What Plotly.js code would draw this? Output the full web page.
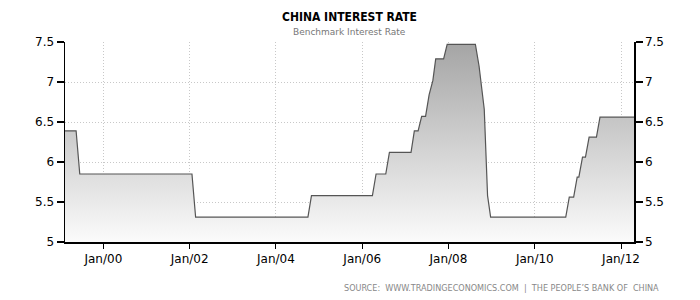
<!DOCTYPE html>
<html>
<head>
<meta charset="utf-8">
<script src="https://cdn.plot.ly/plotly-3.0.1.min.js"></script>
<style>html,body{margin:0;padding:0;background:#fff;}#chart{width:700px;height:300px;}</style>
</head>
<body>
<div id="chart"></div>
<script>
const dates = ['1999-02-01','1999-05-15','1999-06-15','2002-01-20','2002-02-20','2004-09-28','2004-10-28','2006-03-28','2006-04-28','2006-07-19','2006-08-19','2007-02-18','2007-03-18','2007-04-19','2007-05-19','2007-06-21','2007-07-21','2007-08-22','2007-09-15','2007-11-21','2007-12-21','2008-08-16','2008-09-16','2008-10-09','2008-10-30','2008-11-27','2008-12-23','2010-09-20','2010-10-20','2010-11-26','2010-12-26','2011-01-09','2011-02-09','2011-03-06','2011-04-06','2011-06-07','2011-07-07','2012-05-01'];
const rates = [6.39,6.39,5.85,5.85,5.31,5.31,5.58,5.58,5.85,5.85,6.12,6.12,6.39,6.39,6.57,6.57,6.84,7.02,7.29,7.29,7.47,7.47,7.20,6.93,6.66,5.58,5.31,5.31,5.56,5.56,5.81,5.81,6.06,6.06,6.31,6.31,6.56,6.56];
const yTicks = [5,5.5,6,6.5,7,7.5];
const yTickText = ['5','5.5','6','6.5','7','7.5'];
const xTicks = ['2000-01-01','2002-01-01','2004-01-01','2006-01-01','2008-01-01','2010-01-01','2012-01-01'];
const xTickText = ['Jan/00','Jan/02','Jan/04','Jan/06','Jan/08','Jan/10','Jan/12'];
const titleText = 'CHINA INTEREST RATE';
const subtitleText = 'Benchmark Interest Rate';
const sourceText = 'SOURCE:  WWW.TRADINGECONOMICS.COM  |  THE PEOPLE\u2019S BANK OF  CHINA';

const font = 'DejaVu Sans, Verdana, sans-serif';
const traces = [
  {
    x: dates, y: rates, type: 'scatter', mode: 'lines',
    line: {color: '#555555', width: 1.2, shape: 'linear'},
    fill: 'tozeroy',
    fillgradient: {type: 'vertical', start: 5, stop: 7.5,
      colorscale: [[0, '#fbfbfb'], [1, '#a4a4a4']]},
    hoverinfo: 'skip', showlegend: false
  },
  {
    x: dates, y: rates, type: 'scatter', mode: 'lines', yaxis: 'y2',
    line: {color: 'rgba(0,0,0,0)', width: 0}, hoverinfo: 'skip', showlegend: false
  }
];
const yax = {
  range: [5, 7.5], tickvals: yTicks, ticktext: yTickText,
  showline: true, linecolor: '#000', linewidth: 1.5,
  ticks: 'outside', ticklen: 7, tickcolor: '#000', tickwidth: 1.5,
  showgrid: true, gridcolor: '#c8c8c8', griddash: '1px,2px', gridwidth: 1,
  zeroline: false, fixedrange: true,
  tickfont: {family: font, size: 12, color: '#000'}
};
const layout = {
  width: 700, height: 300,
  margin: {l: 65, r: 66, t: 42, b: 58},
  paper_bgcolor: '#fff', plot_bgcolor: '#fff',
  xaxis: {
    type: 'date', range: ['1999-02-10', '2012-04-20'],
    tickvals: xTicks, ticktext: xTickText,
    showline: true, linecolor: '#000', linewidth: 1.5,
    ticks: 'outside', ticklen: 5, tickcolor: '#000',
    showgrid: true, gridcolor: '#c8c8c8', griddash: '1px,2px', gridwidth: 1,
    zeroline: false, fixedrange: true,
    tickfont: {family: font, size: 12, color: '#000'}
  },
  yaxis: Object.assign({}, yax, {side: 'left'}),
  yaxis2: Object.assign({}, yax, {side: 'right', overlaying: 'y', showgrid: false}),
  annotations: [
    {text: titleText, xref: 'paper', yref: 'paper', x: 0.5, y: 1, xanchor: 'center', yanchor: 'middle',
     yshift: 25, showarrow: false, font: {family: 'DejaVu Sans Condensed, DejaVu Sans, sans-serif', size: 12, color: '#000', weight: 'bold'}},
    {text: subtitleText, xref: 'paper', yref: 'paper', x: 0.5, y: 1, xanchor: 'center', yanchor: 'middle',
     yshift: 10, showarrow: false, font: {family: font, size: 9, color: '#777'}},
    {text: sourceText, xref: 'paper', yref: 'paper', x: 1, y: 0, xanchor: 'right', yanchor: 'middle',
     xshift: 27, yshift: -46, showarrow: false, font: {family: 'DejaVu Sans Condensed, DejaVu Sans, sans-serif', size: 9, color: '#888'}}
  ]
};
Plotly.newPlot('chart', traces, layout, {staticPlot: true, displayModeBar: false});
</script>
</body>
</html>
